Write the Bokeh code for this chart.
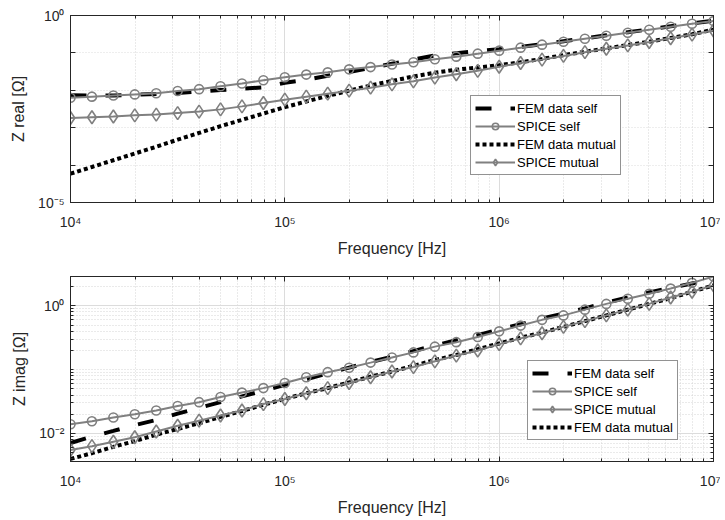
from bokeh.plotting import figure
from bokeh.models import (Range1d, FixedTicker, LogAxis, CustomJSTickFormatter,
                          Legend, LegendItem)
from bokeh.layouts import column
from bokeh.embed import file_html
from bokeh.resources import INLINE

# ---------------- data ----------------
freq = [1.000e4, 1.259e4, 1.585e4, 1.995e4, 2.512e4, 3.162e4, 3.981e4, 5.012e4, 6.310e4, 7.943e4,
        1.000e5, 1.259e5, 1.585e5, 1.995e5, 2.512e5, 3.162e5, 3.981e5, 5.012e5, 6.310e5, 7.943e5,
        1.000e6, 1.259e6, 1.585e6, 1.995e6, 2.512e6, 3.162e6, 3.981e6, 5.012e6, 6.310e6, 7.943e6,
        1.000e7]

# Z real [Ohm]
fem_self_real = [7.41e-3, 7.24e-3, 7.24e-3, 7.59e-3, 7.94e-3, 8.51e-3, 9.33e-3, 1.023e-2, 1.096e-2, 1.202e-2,
                 1.585e-2, 1.905e-2, 2.455e-2, 3.090e-2, 3.981e-2, 5.129e-2, 6.607e-2, 8.511e-2, 9.772e-2, 0.1122,
                 0.1259, 0.1445, 0.1698, 0.2042, 0.2455, 0.2951, 0.3548, 0.4266, 0.5129, 0.6166,
                 0.7244]
spice_self_real = [6.31e-3, 6.76e-3, 7.24e-3, 7.76e-3, 8.32e-3, 9.55e-3, 1.072e-2, 1.288e-2, 1.514e-2, 1.862e-2,
                   2.239e-2, 2.630e-2, 3.020e-2, 3.631e-2, 4.169e-2, 4.898e-2, 5.623e-2, 6.761e-2, 7.943e-2, 9.550e-2,
                   0.1148, 0.1380, 0.1660, 0.1995, 0.2399, 0.2884, 0.3467, 0.4169, 0.5012, 0.6026,
                   0.7079]
fem_mutual_real = [5.89e-5, 8.91e-5, 1.349e-4, 2.042e-4, 3.090e-4, 4.786e-4, 7.244e-4, 1.096e-3, 1.622e-3, 2.399e-3,
                   3.548e-3, 5.012e-3, 7.079e-3, 9.772e-3, 1.349e-2, 1.778e-2, 2.344e-2, 2.951e-2, 3.548e-2, 4.074e-2,
                   4.677e-2, 5.623e-2, 6.918e-2, 8.710e-2, 0.1072, 0.1318, 0.1622, 0.1995, 0.2512, 0.3162,
                   0.4169]
spice_mutual_real = [1.820e-3, 1.905e-3, 1.995e-3, 2.138e-3, 2.239e-3, 2.455e-3, 2.692e-3, 3.090e-3, 3.715e-3, 4.571e-3,
                     5.623e-3, 6.761e-3, 8.128e-3, 9.772e-3, 1.175e-2, 1.445e-2, 1.738e-2, 2.188e-2, 2.692e-2, 3.311e-2,
                     4.266e-2, 5.370e-2, 6.607e-2, 8.318e-2, 0.1047, 0.1288, 0.1585, 0.1950, 0.2455, 0.3090,
                     0.3981]

# Z imag [Ohm]
fem_self_imag = [7.079e-3, 8.913e-3, 1.096e-2, 1.349e-2, 1.622e-2, 2.042e-2, 2.512e-2, 3.090e-2, 3.802e-2, 4.677e-2,
                 5.754e-2, 7.079e-2, 8.710e-2, 0.1072, 0.1318, 0.1585, 0.1950, 0.2399, 0.2884, 0.3467,
                 0.4266, 0.5129, 0.6310, 0.7586, 0.9120, 1.122, 1.349, 1.622, 1.905, 2.239,
                 2.630]
spice_self_imag = [1.396e-2, 1.549e-2, 1.778e-2, 1.995e-2, 2.291e-2, 2.692e-2, 3.090e-2, 3.715e-2, 4.365e-2, 5.129e-2,
                   6.166e-2, 7.586e-2, 9.120e-2, 0.1072, 0.1288, 0.1549, 0.1862, 0.2291, 0.2692, 0.3236,
                   0.3981, 0.4898, 0.6026, 0.7079, 0.8710, 1.072, 1.288, 1.549, 1.862, 2.291,
                   2.884]
spice_mutual_imag = [5.495e-3, 6.310e-3, 7.413e-3, 8.710e-3, 1.072e-2, 1.318e-2, 1.585e-2, 1.905e-2, 2.291e-2, 2.884e-2,
                     3.467e-2, 4.266e-2, 5.129e-2, 6.166e-2, 7.586e-2, 9.333e-2, 0.1096, 0.1349, 0.1660, 0.1995,
                     0.2512, 0.3090, 0.3715, 0.4677, 0.5754, 0.7079, 0.8710, 1.072, 1.349, 1.660,
                     2.089]
fem_mutual_imag = [3.981e-3, 4.898e-3, 6.166e-3, 7.586e-3, 9.550e-3, 1.175e-2, 1.445e-2, 1.820e-2, 2.239e-2, 2.818e-2,
                   3.467e-2, 4.266e-2, 5.129e-2, 6.310e-2, 7.762e-2, 9.333e-2, 0.1148, 0.1413, 0.1698, 0.2089,
                   0.2570, 0.3162, 0.3802, 0.4677, 0.5754, 0.7079, 0.8710, 1.072, 1.318, 1.660,
                   2.089]

# ticks
x_major = [1e4, 1e5, 1e6, 1e7]
x_minor = [2e4, 3e4, 4e4, 5e4, 6e4, 7e4, 8e4, 9e4,
           2e5, 3e5, 4e5, 5e5, 6e5, 7e5, 8e5, 9e5,
           2e6, 3e6, 4e6, 5e6, 6e6, 7e6, 8e6, 9e6]
top_y_ticks = [1e-5, 1e-4, 1e-3, 1e-2, 1e-1, 1e0]
top_y_labeled = [-5, 0]
bot_y_ticks = [1e-2, 1e0]
bot_y_minor = [4e-3, 5e-3, 6e-3, 7e-3, 8e-3, 9e-3,
               2e-2, 3e-2, 4e-2, 5e-2, 6e-2, 7e-2, 8e-2, 9e-2,
               1e-1, 2e-1, 3e-1, 4e-1, 5e-1, 6e-1, 7e-1, 8e-1, 9e-1, 2e0]
bot_y_labeled = [-2, 0]

# ---------------- style ----------------
FONT = "Liberation Sans"
TXT = "#262626"
GREY = "#808080"

SUP_CODE = """
const e = Math.round(Math.log10(tick));
if (labeled.indexOf(e) < 0) { return ''; }
const s = {'-':'\u207b','0':'\u2070','1':'\u00b9','2':'\u00b2','3':'\u00b3','4':'\u2074',
           '5':'\u2075','6':'\u2076','7':'\u2077','8':'\u2078','9':'\u2079'};
return '10' + String(e).split('').map(c => s[c]).join('');
"""


def sup_fmt(labeled):
    return CustomJSTickFormatter(args=dict(labeled=labeled), code=SUP_CODE)


def style_axis(ax, label_size="14px"):
    ax.axis_line_color = TXT
    ax.major_tick_line_color = TXT
    ax.minor_tick_line_color = TXT
    ax.major_tick_in = 5
    ax.major_tick_out = 0
    ax.minor_tick_in = 3
    ax.minor_tick_out = 0
    ax.major_label_text_font = FONT
    ax.major_label_text_font_size = label_size
    ax.major_label_text_color = TXT
    ax.axis_label_text_font = FONT
    ax.axis_label_text_font_size = "16px"
    ax.axis_label_text_font_style = "normal"
    ax.axis_label_text_color = TXT


def make_fig(height, btop, bbottom, yr, yticker, ylab_list, ylabel, y_major_dash):
    p = figure(width=720, height=height, x_axis_type="log", y_axis_type="log",
               x_range=Range1d(1e4, 1e7), y_range=Range1d(*yr),
               output_backend="svg", toolbar_location=None,
               min_border_left=70, min_border_right=7,
               min_border_top=btop, min_border_bottom=bbottom)
    xt = FixedTicker(ticks=x_major, minor_ticks=x_minor)
    p.xaxis.ticker = xt
    p.xaxis.formatter = sup_fmt([4, 5, 6, 7])
    p.yaxis.ticker = yticker
    p.yaxis.formatter = sup_fmt(ylab_list)
    p.xgrid.ticker = xt
    p.ygrid.ticker = yticker
    p.xaxis.axis_label = "Frequency [Hz]"
    p.yaxis.axis_label = ylabel
    style_axis(p.xaxis[0])
    style_axis(p.yaxis[0])
    p.xaxis.major_label_standoff = 11
    p.xaxis.axis_label_standoff = 7
    p.yaxis.major_label_standoff = 6
    p.yaxis.axis_label_standoff = 8

    blank = CustomJSTickFormatter(code="return '';")
    top_ax = LogAxis(ticker=xt, formatter=blank, major_label_text_font_size="0px",
                     major_label_standoff=0)
    right_ax = LogAxis(ticker=yticker, formatter=blank, major_label_text_font_size="0px",
                       major_label_standoff=0)
    style_axis(top_ax, "0px")
    style_axis(right_ax, "0px")
    p.add_layout(top_ax, "above")
    p.add_layout(right_ax, "right")

    p.xgrid.grid_line_color = "#dcdcdc"
    p.xgrid.minor_grid_line_color = "#d4d4d4"
    p.xgrid.minor_grid_line_dash = "1 2"
    p.ygrid.grid_line_color = "#dcdcdc"
    p.ygrid.grid_line_dash = y_major_dash
    p.ygrid.minor_grid_line_color = "#d4d4d4"
    p.ygrid.minor_grid_line_dash = "1 2"
    p.outline_line_color = TXT
    p.background_fill_color = "white"
    return p


def add_series(p, fem_self, spice_self, fem_mut, spice_mut):
    r_fs = p.line(freq, fem_self, line_color="black", line_width=4, line_dash="16 19")
    r_fm = p.line(freq, fem_mut, line_color="black", line_width=4, line_dash="4 3")
    r_ssl = p.line(freq, spice_self, line_color=GREY, line_width=2)
    r_ssm = p.scatter(freq, spice_self, marker="circle", size=9, line_color=GREY,
                      line_width=1.6, fill_color=None)
    r_sml = p.line(freq, spice_mut, line_color=GREY, line_width=2)
    r_smm = p.scatter(freq, spice_mut, marker="diamond", size=13, line_color=GREY,
                      line_width=1.6, fill_color=None)
    return {
        "FEM data self": [r_fs],
        "SPICE self": [r_ssl, r_ssm],
        "FEM data mutual": [r_fm],
        "SPICE mutual": [r_sml, r_smm],
    }


def add_legend(p, rmap, order, loc):
    items = [LegendItem(label=k, renderers=rmap[k]) for k in order]
    leg = Legend(items=items, location=loc, border_line_color=TXT, border_line_width=1,
                 label_text_font=FONT, label_text_font_size="13px", label_text_color="black",
                 glyph_width=40, glyph_height=16, label_height=16, spacing=2, padding=4,
                 margin=0, label_standoff=2, background_fill_color="white",
                 background_fill_alpha=1.0)
    p.add_layout(leg)


# top panel
yt1 = FixedTicker(ticks=top_y_ticks, minor_ticks=[])
p1 = make_fig(268, 15, 66, (1e-5, 1e0), yt1, top_y_labeled, "Z real [\u03a9]", "1 2")
rm1 = add_series(p1, fem_self_real, spice_self_real, fem_mutual_real, spice_mutual_real)
add_legend(p1, rm1, ["FEM data self", "SPICE self", "FEM data mutual", "SPICE mutual"], (400, 27))

# bottom panel
yt2 = FixedTicker(ticks=bot_y_ticks, minor_ticks=bot_y_minor)
p2 = make_fig(250, 8, 55, (3.63e-3, 2.88), yt2, bot_y_labeled, "Z imag [\u03a9]", "solid")
rm2 = add_series(p2, fem_self_imag, spice_self_imag, fem_mutual_imag, spice_mutual_imag)
add_legend(p2, rm2, ["FEM data self", "SPICE self", "SPICE mutual", "FEM data mutual"], (457, 21))

layout = column(p1, p2, spacing=0)
open("out.html", "w").write(file_html(layout, INLINE))
